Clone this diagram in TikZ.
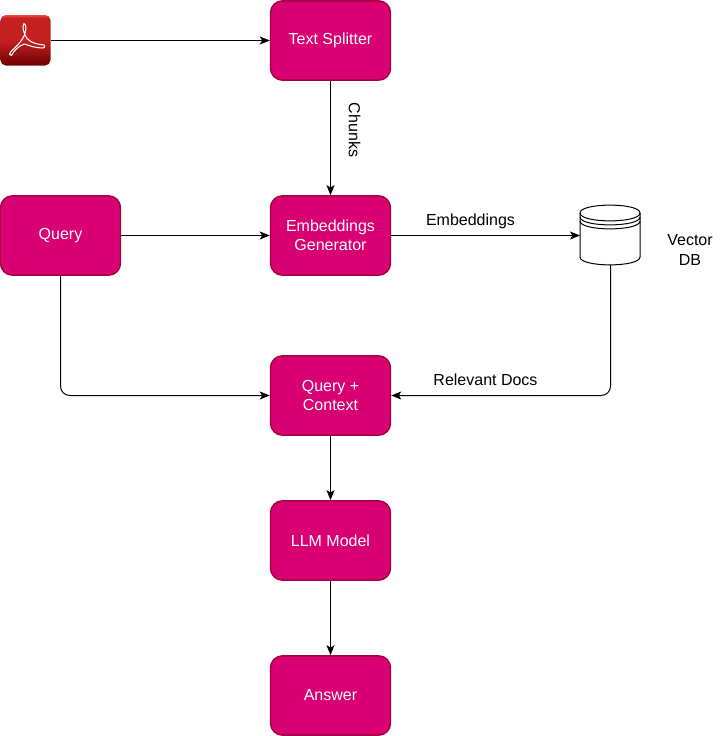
\documentclass[tikz,border=0pt]{standalone}
\usepackage{fontspec}
\setmainfont{Liberation Sans}
\usetikzlibrary{arrows.meta,shapes.geometric}
\definecolor{boxfill}{HTML}{D80073}
\definecolor{boxline}{HTML}{A50040}
\definecolor{pdftop}{HTML}{F04A4A}
\definecolor{pdfmid}{HTML}{C42020}
\definecolor{pdfbot}{HTML}{6E0000}
\pgfdeclareverticalshading{pdfshade}{100bp}{color(0bp)=(pdfbot); color(25bp)=(pdfbot); color(50bp)=(pdfmid); color(72bp)=(pdfmid); color(75bp)=(pdftop); color(100bp)=(pdftop)}
\tikzset{
  x=0.75pt,y=-0.75pt,
  flowbox/.style={draw=boxline,line width=1.1pt,fill=boxfill,rounded corners=9pt,minimum width=90pt,minimum height=59.5pt,inner sep=0pt,text=white,align=center,font=\fontsize{12pt}{13.6pt}\selectfont},
  lbl/.style={inner sep=0pt,align=center,font=\fontsize{12pt}{15pt}\selectfont},
  conn/.style={draw=black,line width=0.75pt,-{Stealth[length=7.5pt,width=6pt,inset=1.8pt]},rounded corners=7pt},
}
\begin{document}
\begin{tikzpicture}
\useasboundingbox (0,0) rectangle (721,736);
% PDF icon
\shade[rounded corners=4pt,shading=pdfshade] (0.5,15) rectangle (50.5,65.5);
\coordinate (pdf) at (50.5,40.5);
\draw[white,line width=0.8pt,line join=round] (24,23.5) .. controls (21.5,27) and (24,34) .. (27,38.5) .. controls (31,43) and (38,44.5) .. (44,45) .. controls (45.5,46) and (45,48) .. (43,48) .. controls (36,48) and (30,46) .. (24.5,44) .. controls (18,46) and (14,51) .. (11.5,55.5) .. controls (9,56) and (9,53) .. (11,51.5) .. controls (17,46) and (22,41) .. (24.5,35) .. controls (26,30) and (27,25) .. (24,23.5) -- cycle;
% boxes
\node[flowbox] (split) at (330.5,40.5) {\raisebox{-1.8pt}{Text Splitter}};
\node[flowbox] (embed) at (330.5,235.5) {\raisebox{0.5pt}{Embeddings}\\Generator};
\node[flowbox] (query) at (60.5,235.5) {\raisebox{-1.4pt}{Query}};
\node[flowbox] (ctx) at (330.5,395.5) {\raisebox{0.5pt}{Query +}\\Context};
\node[flowbox] (llm) at (330.5,540.5) {LLM Model};
\node[flowbox] (ans) at (330.5,695.5) {Answer};
% database
\coordinate (dbleft) at (580,235.5);
\coordinate (dbbot) at (610.5,265);
\draw[black,line width=0.75pt,fill=white] (580,213) .. controls (580,202.5) and (640,202.5) .. (640,213) -- (640,257) .. controls (640,267.5) and (580,267.5) .. (580,257) -- cycle;
\draw[black,line width=0.75pt] (580,213) .. controls (580,223.5) and (640,223.5) .. (640,213);
\draw[black,line width=0.75pt] (580,217) .. controls (580,227.5) and (640,227.5) .. (640,217);
\draw[black,line width=0.75pt] (580,221) .. controls (580,231.5) and (640,231.5) .. (640,221);
% connectors
\draw[conn] (pdf) -- (split);
\draw[conn] (split) -- (embed);
\draw[conn] (query) -- (embed);
\draw[conn] (embed) -- (dbleft);
\draw[conn] (query.south) |- (ctx.west);
\draw[conn] (dbbot) |- (ctx.east);
\draw[conn] (ctx) -- (llm);
\draw[conn] (llm) -- (ans);
% labels
\node[lbl,rotate=-90] (lchunks) at (354.5,130) {Chunks};
\node[lbl] (lembed) at (470.5,221) {Embeddings};
\node[lbl] (ldocs) at (485.5,379.5) {Relevant Docs};
\node[lbl] (lvec) at (690,250) {Vector\\DB};
\end{tikzpicture}
\end{document}
